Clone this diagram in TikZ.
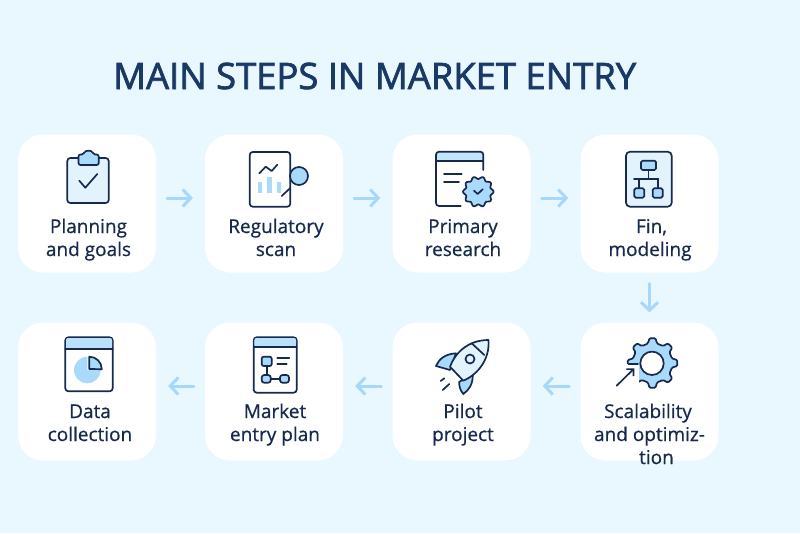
\documentclass[tikz,border=0pt]{standalone}
\usepackage{fontspec}
\setmainfont{Open Sans}
\newfontfamily\titlefont[FakeBold=2]{Open Sans}
\newfontfamily\labelfont[FakeBold=0.6]{Open Sans}
\usetikzlibrary{arrows.meta}

\definecolor{pageBlue}{HTML}{E9F7FF}
\definecolor{iconNavy}{HTML}{17294D}
\definecolor{titleNavy}{HTML}{1A3A66}
\definecolor{iconBlue}{HTML}{A9DAFB}
\definecolor{iconPale}{HTML}{E2F3FE}
\definecolor{arrowBlue}{HTML}{A6D8FB}

\newcommand*{\boxSize}{138}
\newcommand*{\iconWidth}{1.7pt}

\tikzset{
	stepbox/.style={fill=white,rounded corners=25pt,minimum width=\boxSize pt,minimum height=\boxSize pt,inner sep=0pt},
	steplabel/.style={align=center,text=iconNavy,anchor=base,font=\labelfont\fontsize{19}{23}\selectfont,inner sep=0pt},
	flowarrow/.style={draw=arrowBlue,line width=3pt,line cap=round,-{Straight Barb[length=8pt,width=17pt]}},
	iconline/.style={draw=iconNavy,line width=\iconWidth,line join=round,line cap=round},
	iconpale/.style={iconline,fill=iconPale},
	iconblue/.style={iconline,fill=iconBlue},
	iconwhite/.style={iconline,fill=white},
}

\begin{document}
\begin{tikzpicture}[x=1pt,y=-1pt]

		\useasboundingbox (0,0) rectangle (800,533);
		\fill [pageBlue] (0,0) rectangle (800,533);

		\node[anchor=base west,inner sep=0pt,text=titleNavy,font=\titlefont\fontsize{36.4}{40}\selectfont] (title) at (113,89) {MAIN STEPS IN MARKET ENTRY};

		\foreach \boxName/\xPos/\yPos in {plan/87/203.5,scan/274/203.5,research/461.5/203.5,fin/649.5/203.5,scale/649.5/391.5,pilot/461.5/391.5,entry/274/391.5,data/87/391.5} {
			\node[stepbox] (\boxName) at (\xPos,\yPos) {};
		}

		\foreach \a/\b in {plan/scan,scan/research,research/fin} {
			\draw [flowarrow,shorten <=11pt,shorten >=12pt] ([yshift=5.5pt]\a.east) -- ([yshift=5.5pt]\b.west);
		}
		\draw [flowarrow,shorten <=11pt,shorten >=10pt] (fin) -- (scale);
		\foreach \a/\b in {scale/pilot,pilot/entry,entry/data} {
			\draw [flowarrow,shorten <=11pt,shorten >=12pt] ([yshift=5.5pt]\a.west) -- ([yshift=5.5pt]\b.east);
		}

		\node[steplabel] (planText) at (88.5,256) {Planning\\and goals};
		\node[steplabel] (scanText) at (276,256) {Regulatory\\scan};
		\node[steplabel] (researchText) at (463,256) {Primary\\research};
		\node[steplabel] (finText) at (650,256) {\kern3pt Fin,\\modeling};
		\node[steplabel] (dataText) at (90,441) {Data\\collection};
		\node[steplabel] (entryText) at (275,441) {Market\\entry plan};
		\node[steplabel] (pilotText) at (463,441) {Pilot\\project};
		\node[steplabel] (scaleText) at (649.5,464) {Scalability\kern3pt\\and optimiz-\\\hspace{14pt}tion};

		% clipboard
		\draw [iconpale,rounded corners=3pt] (67.3,158) rectangle (108.7,203);
		\draw [iconblue,rounded corners=2pt] (78.5,165) -- (78.5,154.5) -- (84,154.5) .. controls (85,150) and (92,150) .. (93,154.5) -- (98.7,154.5) -- (98.7,165) -- cycle;
		\draw [iconline] (79.3,180.7) -- (85.3,187.7) -- (97.3,174);

		% report with lens
		\draw [iconwhite,rounded corners=3pt] (249.7,152) rectangle (290.3,206.7);
		\draw [iconblue] (299,176) circle (9);
		\draw [iconline] (281.7,196) -- (290,188.3);
		\draw [iconline] (259.3,173.3) -- (265.7,166.7) -- (271.7,171) -- (277.3,164.7);
		\fill [iconBlue] (258.3,181.7) rectangle (262.3,193.3);
		\fill [iconBlue] (267.3,176.7) rectangle (271.7,193.3);
		\fill [iconBlue] (276.7,181.7) rectangle (280.7,193.3);

		% window with badge
		\fill [iconBlue!70!white,rounded corners=2pt] (436,151.7) rectangle (483.3,161);
		\draw [iconline,rounded corners=3pt] (460.7,206) -- (436,206) -- (436,151.7) -- (483.3,151.7) -- (483.3,170);
		\draw [iconline] (436,161) -- (483.3,161);
		\draw [iconline] (444,174) -- (461.7,174);
		\draw [iconline] (444,182.3) -- (459,182.3);
		\draw [iconblue] plot[domain=0:356,samples=90] ({478.3+(14+1.3*cos(10*\x))*cos(\x)},{191.7+(14+1.3*cos(10*\x))*sin(\x)}) -- cycle;
		\draw [iconline] (474,190.7) -- (477.7,194) -- (482.7,189.3);

		% org chart
		\draw [iconpale,rounded corners=4pt] (626,151.7) rectangle (671.7,206.7);
		\draw [iconblue,rounded corners=1.5pt] (641,160.7) rectangle (656,170);
		\draw [iconline] (648.5,170) -- (648.5,179);
		\draw [iconline] (634,179) -- (658.3,179);
		\draw [iconline] (639.3,179) -- (639.3,188.3);
		\draw [iconline] (657.7,179) -- (657.7,188.3);
		\draw [iconblue,rounded corners=1.5pt] (634.3,188.3) rectangle (644.3,197.7);
		\draw [iconblue,rounded corners=1.5pt] (652.7,188.3) rectangle (662.7,197.7);

		% window with pie
		\draw [iconwhite,rounded corners=3pt] (65.3,337.3) rectangle (112.7,391.3);
		\fill [iconBlue!80!white,rounded corners=2pt] (66,338) rectangle (112,349);
		\draw [iconline] (65.3,349) -- (112.7,349);
		\fill [iconBlue] (87.3,370) -- (87.3,356.7) arc (-90:-360:13.3) -- cycle;
		\draw [iconblue] (89.3,369) -- (89.3,356.7) arc (-90:0:12.5) -- cycle;

		% plan sheet
		\draw [iconwhite,rounded corners=3pt] (253.7,337.3) rectangle (296.7,392.7);
		\fill [iconBlue!80!white,rounded corners=2pt] (254.4,338) rectangle (296,346.7);
		\draw [iconline] (253.7,346.7) -- (296.7,346.7);
		\draw [iconline] (266.7,366) -- (266.7,375);
		\draw [iconline] (270.7,378.8) -- (280,378.8);
		\draw [iconblue,rounded corners=2pt] (261.7,356.7) rectangle (271.7,366);
		\draw [iconblue,rounded corners=2.5pt] (261.7,375) rectangle (270.7,382.7);
		\draw [iconblue,rounded corners=2.5pt] (280,375) rectangle (289,382.7);
		\draw [iconline] (277.3,357.7) -- (289.3,357.7);
		\draw [iconline] (277.3,364) -- (286.7,364);

		% rocket
		\draw [iconblue] (456,353.3) .. controls (445,354) and (439,359) .. (436,366) -- (450,370) -- cycle;
		\draw [iconblue] (472.7,375) .. controls (473,384) and (469,390) .. (463.3,394) .. controls (460,390) and (459,386) .. (459.3,381.7) -- cycle;
		\draw [iconpale] (488.5,340) .. controls (468,340) and (455,353) .. (450,366.7) -- (463.3,380.7) .. controls (479,374) and (490,358) .. (488.5,340) -- cycle;
		\draw [iconline] (471.7,343.3) -- (484.3,355);
		\draw [iconpale] (470,359) circle (4.5);
		\draw [iconline] (440.7,381) -- (444.3,378.3);
		\draw [iconline] (442.7,390) -- (449.3,384);

		% gear with arrow
		\draw [iconblue,rounded corners=1.2pt,shift={(652.5,363)}] (-103:20) \foreach \t in {-90,-45,...,225} { -- (\t-13:20) -- (\t-7:25) -- (\t+7:25) -- (\t+13:20)} -- cycle;
		\fill [white] (620,364) rectangle (638.5,392);
		\draw [iconline] (628.5,364) -- (638,364);
		\draw [iconwhite] (652,363.3) circle (11.7);
		\draw [iconline,-{Straight Barb[length=5pt,width=10pt]}] (616.7,385.7) -- (634.3,368.3);

\end{tikzpicture}
\end{document}
